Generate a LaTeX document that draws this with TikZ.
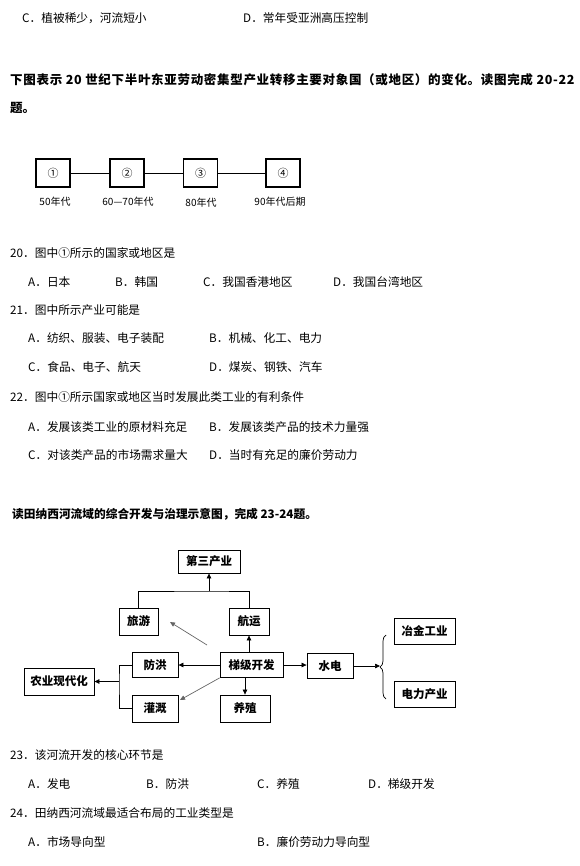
\documentclass[tikz,border=0pt]{standalone}
\usepackage{fontspec}
\setmainfont{Noto Sans CJK SC}
\usetikzlibrary{arrows.meta,decorations.pathreplacing,calc}

\begin{document}
\begin{tikzpicture}[x=1pt,y=-1pt,
  txt/.style={anchor=west,inner sep=0pt,font=\fontsize{11.7}{14}\selectfont},
  hd/.style={anchor=west,inner sep=0pt,font=\bfseries\fontsize{12.5}{15}\selectfont},
  yr/.style={draw,line width=1.2pt,minimum width=34pt,minimum height=28pt,inner sep=0pt,font=\fontsize{11}{13}\selectfont},
  yrlab/.style={inner sep=0pt,font=\fontsize{10}{12}\selectfont},
  bx/.style={draw,line width=0.8pt,inner sep=0pt,minimum height=26pt,font=\bfseries\fontsize{11.5}{14}\selectfont},
  arr/.style={-{Triangle[length=5pt,width=4.5pt]},line width=0.7pt}]
  \useasboundingbox (0,0) rectangle (579,866);

  % end of question 19
  \node[txt] (q19c) at (22,18) {C．植被稀少，河流短小};
  \node[txt] (q19d) at (243,18) {D．常年受亚洲高压控制};

  \node[hd,font=\bfseries\fontsize{12.5}{15}\selectfont\addfontfeature{LetterSpace=5.5}] (h1) at (10,80) {下图表示 20 世纪下半叶东亚劳动密集型产业转移主要对象国（或地区）的变化。读图完成 20-22};
  \node[hd] (h1b) at (10,108) {题。};

  % transfer chain
  \node[yr] (p1) at (53,173) {①};
  \node[yr] (p2) at (127,173) {②};
  \node[yr] (p3) at (200.5,173) {③};
  \node[yr] (p4) at (283,173) {④};
  \draw [line width=0.8pt] (p1) -- (p2);
  \draw [line width=0.8pt] (p2) -- (p3);
  \draw [line width=0.8pt] (p3) -- (p4);
  \node[yrlab] (t1) at (55,202) {50年代};
  \node[yrlab] (t2) at (128,202) {60—70年代};
  \node[yrlab] (t3) at (201,203) {80年代};
  \node[yrlab] (t4) at (280,202) {90年代后期};

  % questions 20-22
  \node[txt] (q20) at (10,253) {20．图中①所示的国家或地区是};
  \node[txt] (q20a) at (28,282) {A．日本};
  \node[txt] (q20b) at (115,282) {B．韩国};
  \node[txt] (q20c) at (203,282) {C．我国香港地区};
  \node[txt] (q20d) at (333,282) {D．我国台湾地区};
  \node[txt] (q21) at (10,310) {21．图中所示产业可能是};
  \node[txt] (q21a) at (28,338) {A．纺织、服装、电子装配};
  \node[txt] (q21b) at (209,338) {B．机械、化工、电力};
  \node[txt] (q21c) at (28,367) {C．食品、电子、航天};
  \node[txt] (q21d) at (209,367) {D．煤炭、钢铁、汽车};
  \node[txt] (q22) at (10,397) {22．图中①所示国家或地区当时发展此类工业的有利条件};
  \node[txt] (q22a) at (28,427) {A．发展该类工业的原材料充足};
  \node[txt] (q22b) at (209,427) {B．发展该类产品的技术力量强};
  \node[txt] (q22c) at (28,455) {C．对该类产品的市场需求量大};
  \node[txt] (q22d) at (209,455) {D．当时有充足的廉价劳动力};

  \node[hd,font=\bfseries\fontsize{11.7}{14}\selectfont] (h2) at (12,514) {读田纳西河流域的综合开发与治理示意图，完成 23-24题。};

  % river basin
  \node[bx,minimum width=62pt,minimum height=23pt] (dsc) at (209,561.5) {第三产业};
  \node[bx,minimum width=39pt,minimum height=27pt] (ly) at (138.5,621.5) {旅游};
  \node[bx,minimum width=40pt,minimum height=27pt] (hy) at (249,621.5) {航运};
  \node[bx,minimum width=61pt] (yj) at (424.5,631) {冶金工业};
  \node[bx,minimum width=46pt,minimum height=25pt] (fh) at (155,665) {防洪};
  \node[bx,minimum width=63pt,minimum height=25pt] (tj) at (251.5,665) {梯级开发};
  \node[bx,minimum width=46pt,minimum height=25pt] (sd) at (330,666) {水电};
  \node[bx,minimum width=70pt,minimum height=27pt] (ny) at (59,681.5) {农业现代化};
  \node[bx,minimum width=46pt,minimum height=27pt] (gg) at (155,708.5) {灌溉};
  \node[bx,minimum width=50pt,minimum height=27pt] (yz) at (245,708.5) {养殖};
  \node[bx,minimum width=61pt] (dl) at (424.5,694) {电力产业};

  \coordinate (jn) at (209,591);
  \coordinate (nj) at (119,681.5);
  \coordinate (lyS) at (207,645);
  \coordinate (lyE) at (170,622);
  \coordinate (ggE) at (180,700);
  \coordinate (bt) at (386,635);
  \coordinate (bb) at (386,699);
  \coordinate (bk) at (380,667);

  \draw [line width=0.7pt] (ly.north) |- (jn) -| (hy.north);
  \draw [arr] (jn) -- (dsc.south);
  \draw [arr,gray!80!black] (lyS) -- (lyE);
  \draw [arr] (tj.north -| hy) -- (hy.south);
  \draw [arr] (tj.west) -- (fh.east);
  \draw [arr,gray!80!black] (tj.south west) -- (ggE);
  \draw [arr] (tj.south -| yz) -- (yz.north);
  \draw [arr] (tj.east) -- (tj.east -| sd.west);
  \draw [arr] (sd.east) -- (sd.east -| bk);
  \draw [line width=0.7pt] (fh.west) -| (nj) |- (gg.west);
  \draw [arr] (nj) -- (ny.east);
  \draw [line width=0.7pt,decorate,decoration={brace,amplitude=6pt}] (bb) -- (bt);

  % questions 23-24
  \node[txt] (q23) at (10,755) {23．该河流开发的核心环节是};
  \node[txt] (q23a) at (28,784) {A．发电};
  \node[txt] (q23b) at (146,784) {B．防洪};
  \node[txt] (q23c) at (257,784) {C．养殖};
  \node[txt] (q23d) at (368,784) {D．梯级开发};
  \node[txt] (q24) at (10,813) {24．田纳西河流域最适合布局的工业类型是};
  \node[txt] (q24a) at (28,842) {A．市场导向型};
  \node[txt] (q24b) at (257,842) {B．廉价劳动力导向型};
\end{tikzpicture}
\end{document}
